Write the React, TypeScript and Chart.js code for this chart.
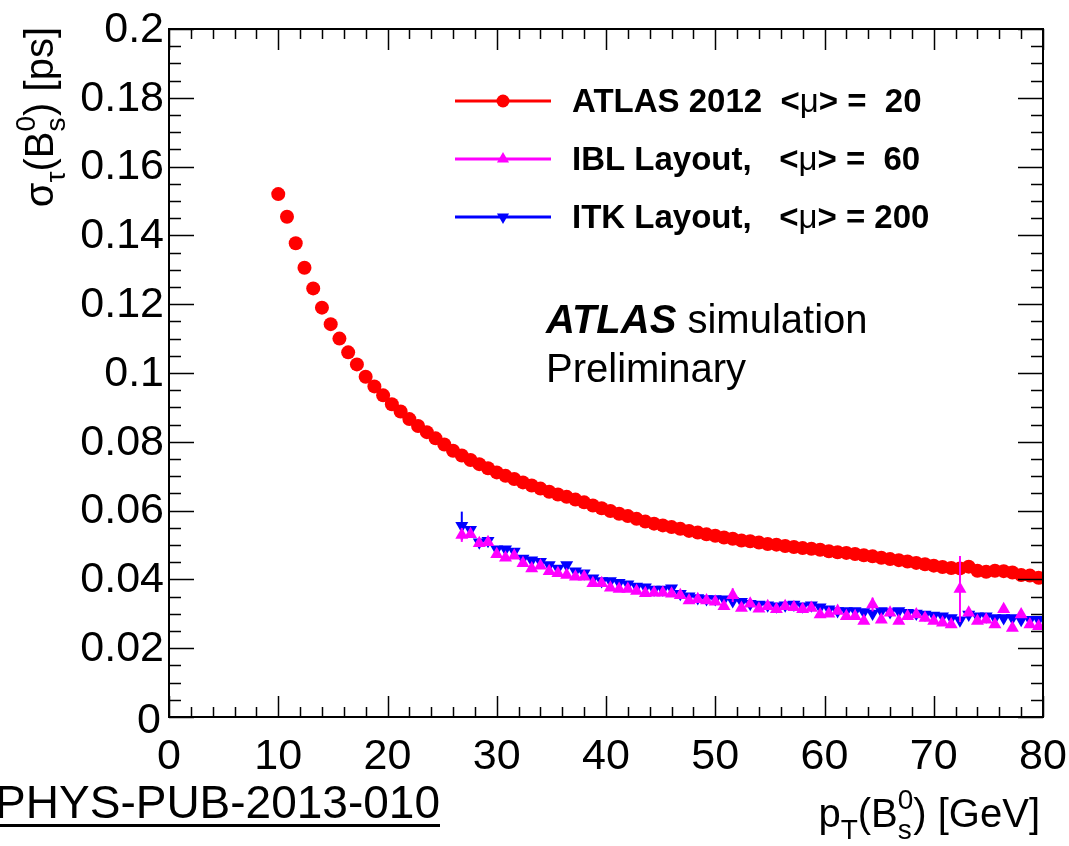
import { useEffect, useRef } from "react";
import { Chart, registerables } from "chart.js";

Chart.register(...registerables);

const FONT = '"Liberation Sans", Arial, Helvetica, sans-serif';

// ---- data ----
const ptAtlas = [
  10.0, 10.8, 11.6, 12.4, 13.2, 14.0, 14.8, 15.6, 16.4, 17.2, 18.0, 18.8, 19.6, 20.4, 21.2, 22.0, 22.8, 23.6, 24.4, 25.2,
  26.0, 26.8, 27.6, 28.4, 29.2, 30.0, 30.8, 31.6, 32.4, 33.2, 34.0, 34.8, 35.6, 36.4, 37.2, 38.0, 38.8, 39.6, 40.4, 41.2,
  42.0, 42.8, 43.6, 44.4, 45.2, 46.0, 46.8, 47.6, 48.4, 49.2, 50.0, 50.8, 51.6, 52.4, 53.2, 54.0, 54.8, 55.6, 56.4, 57.2,
  58.0, 58.8, 59.6, 60.4, 61.2, 62.0, 62.8, 63.6, 64.4, 65.2, 66.0, 66.8, 67.6, 68.4, 69.2, 70.0, 70.8, 71.6, 72.4, 73.2,
  74.0, 74.8, 75.6, 76.4, 77.2, 78.0, 78.8, 79.6,
];
const sigmaAtlas = [
  0.1520, 0.1454, 0.1377, 0.1306, 0.1246, 0.1190, 0.1142, 0.1100, 0.1060, 0.1025, 0.0989, 0.0961, 0.0935, 0.0909, 0.0888, 0.0866, 0.0846, 0.0828, 0.0810, 0.0792,
  0.0774, 0.0760, 0.0747, 0.0735, 0.0723, 0.0711, 0.0701, 0.0692, 0.0682, 0.0673, 0.0664, 0.0655, 0.0647, 0.0640, 0.0632, 0.0624, 0.0615, 0.0607, 0.0599, 0.0591,
  0.0584, 0.0576, 0.0568, 0.0562, 0.0557, 0.0552, 0.0547, 0.0541, 0.0536, 0.0531, 0.0527, 0.0522, 0.0518, 0.0513, 0.0511, 0.0507, 0.0503, 0.0501, 0.0497, 0.0494,
  0.0491, 0.0489, 0.0486, 0.0482, 0.0479, 0.0477, 0.0474, 0.0470, 0.0467, 0.0463, 0.0459, 0.0456, 0.0452, 0.0448, 0.0444, 0.0440, 0.0436, 0.0433, 0.0432, 0.0437,
  0.0425, 0.0422, 0.0425, 0.0424, 0.0420, 0.0413, 0.0411, 0.0405,
];
const ptUpgrade = [
  26.8, 27.6, 28.4, 29.2, 30.0, 30.8, 31.6, 32.4, 33.2, 34.0, 34.8, 35.6, 36.4, 37.2, 38.0, 38.8, 39.6, 40.4, 41.2, 42.0,
  42.8, 43.6, 44.4, 45.2, 46.0, 46.8, 47.6, 48.4, 49.2, 50.0, 50.8, 51.6, 52.4, 53.2, 54.0, 54.8, 55.6, 56.4, 57.2, 58.0,
  58.8, 59.6, 60.4, 61.2, 62.0, 62.8, 63.6, 64.4, 65.2, 66.0, 66.8, 67.6, 68.4, 69.2, 70.0, 70.8, 71.6, 72.4, 73.2, 74.0,
  74.8, 75.6, 76.4, 77.2, 78.0, 78.8, 79.6,
];
const sigmaIbl = [
  0.0529, 0.0531, 0.0505, 0.0508, 0.0473, 0.0463, 0.0469, 0.0447, 0.0432, 0.0440, 0.0424, 0.0418, 0.0413, 0.0408, 0.0408, 0.0389, 0.0389, 0.0376, 0.0372, 0.0372,
  0.0366, 0.0360, 0.0361, 0.0361, 0.0358, 0.0354, 0.0339, 0.0342, 0.0339, 0.0335, 0.0322, 0.0354, 0.0317, 0.0329, 0.0315, 0.0322, 0.0313, 0.0322, 0.0319, 0.0313,
  0.0317, 0.0298, 0.0300, 0.0308, 0.0293, 0.0293, 0.0279, 0.0327, 0.0283, 0.0303, 0.0279, 0.0293, 0.0298, 0.0288, 0.0279, 0.0274, 0.0269, 0.0372, 0.0303, 0.0279,
  0.0283, 0.0269, 0.0313, 0.0259, 0.0298, 0.0269, 0.0264,
];
const errIbl = [
  0.0020, 0.0008, 0.0008, 0.0008, 0.0008, 0.0008, 0.0008, 0.0008, 0.0008, 0.0008, 0.0008, 0.0008, 0.0008, 0.0008, 0.0008, 0.0008, 0.0008, 0.0008, 0.0008, 0.0008,
  0.0008, 0.0008, 0.0008, 0.0008, 0.0008, 0.0008, 0.0008, 0.0008, 0.0008, 0.0008, 0.0008, 0.0020, 0.0008, 0.0008, 0.0008, 0.0008, 0.0008, 0.0008, 0.0008, 0.0008,
  0.0008, 0.0008, 0.0008, 0.0008, 0.0008, 0.0008, 0.0008, 0.0020, 0.0008, 0.0008, 0.0008, 0.0008, 0.0008, 0.0008, 0.0008, 0.0008, 0.0008, 0.0096, 0.0008, 0.0008,
  0.0008, 0.0008, 0.0008, 0.0008, 0.0008, 0.0008, 0.0008,
];
const sigmaItk = [
  0.0556, 0.0544, 0.0508, 0.0512, 0.0488, 0.0488, 0.0481, 0.0461, 0.0456, 0.0451, 0.0442, 0.0432, 0.0442, 0.0424, 0.0418, 0.0403, 0.0395, 0.0395, 0.0390, 0.0386,
  0.0379, 0.0377, 0.0371, 0.0371, 0.0374, 0.0358, 0.0351, 0.0346, 0.0343, 0.0343, 0.0342, 0.0337, 0.0335, 0.0329, 0.0327, 0.0325, 0.0322, 0.0325, 0.0327, 0.0322,
  0.0325, 0.0319, 0.0313, 0.0308, 0.0308, 0.0308, 0.0305, 0.0301, 0.0308, 0.0305, 0.0308, 0.0303, 0.0301, 0.0298, 0.0295, 0.0293, 0.0288, 0.0281, 0.0298, 0.0293,
  0.0293, 0.0288, 0.0288, 0.0288, 0.0283, 0.0283, 0.0283,
];
const errItk = [
  0.0041, 0.0006, 0.0006, 0.0006, 0.0006, 0.0006, 0.0006, 0.0006, 0.0006, 0.0006, 0.0006, 0.0006, 0.0006, 0.0006, 0.0006, 0.0006, 0.0006, 0.0006, 0.0006, 0.0006,
  0.0006, 0.0006, 0.0006, 0.0006, 0.0006, 0.0006, 0.0006, 0.0006, 0.0006, 0.0006, 0.0006, 0.0006, 0.0006, 0.0006, 0.0006, 0.0006, 0.0006, 0.0006, 0.0006, 0.0006,
  0.0006, 0.0006, 0.0006, 0.0006, 0.0006, 0.0006, 0.0006, 0.0006, 0.0006, 0.0006, 0.0006, 0.0006, 0.0006, 0.0006, 0.0006, 0.0006, 0.0006, 0.0006, 0.0006, 0.0006,
  0.0006, 0.0006, 0.0006, 0.0006, 0.0006, 0.0006, 0.0006,
];
const legendLabels = ["ATLAS 2012  <μ> =  20", "IBL Layout,   <μ> =  60", "ITK Layout,   <μ> = 200"];
const seriesColors = ["#ff0000", "#ff00ff", "#0000ff"];
const xTickValues = [0, 10, 20, 30, 40, 50, 60, 70, 80];
const xTickLabels = ["0", "10", "20", "30", "40", "50", "60", "70", "80"];
const yTickValues = [0.02, 0.04, 0.06, 0.08, 0.1, 0.12, 0.14, 0.16, 0.18, 0.2];
const yTickLabels = ["0.02", "0.04", "0.06", "0.08", "0.1", "0.12", "0.14", "0.16", "0.18", "0.2"];
const yZeroLabel = "0";
const refLabel = "PHYS-PUB-2013-010";

type Part = { t: string; k?: "sub" | "sup"; stack?: boolean };

function drawParts(ctx: CanvasRenderingContext2D, parts: Part[], size: number, weight: string, draw: boolean) {
  let x = 0;
  let stackW = 0;
  for (const p of parts) {
    const sz = p.k ? size * 0.7 : size;
    const dy = p.k === "sub" ? size * 0.3 : p.k === "sup" ? -size * 0.45 : 0;
    ctx.font = `${weight} ${sz}px ${FONT}`;
    const w = ctx.measureText(p.t).width;
    if (draw) ctx.fillText(p.t, x, dy);
    if (p.stack) {
      stackW = w;
    } else {
      x += Math.max(w, stackW);
      stackW = 0;
    }
  }
  return x;
}

function drawMarker(ctx: CanvasRenderingContext2D, style: string, x: number, y: number, r: number, color: string) {
  ctx.fillStyle = color;
  ctx.beginPath();
  if (style === "circle") {
    ctx.arc(x, y, r, 0, Math.PI * 2);
  } else {
    const s = style === "down" ? -1 : 1;
    ctx.moveTo(x, y - s * r);
    ctx.lineTo(x + r * 0.866, y + s * r * 0.5);
    ctx.lineTo(x - r * 0.866, y + s * r * 0.5);
    ctx.closePath();
  }
  ctx.fill();
}

const errorBarPlugin = {
  id: "errorBars",
  afterDatasetDraw(chart: any, args: any) {
    const ds = chart.data.datasets[args.index];
    const errs: number[] | undefined = ds.errors;
    if (!errs) return;
    const ctx = chart.ctx as CanvasRenderingContext2D;
    const xs = chart.scales.x;
    const ys = chart.scales.y;
    ctx.save();
    ctx.strokeStyle = ds.backgroundColor;
    ctx.lineWidth = 2;
    ds.data.forEach((p: any, i: number) => {
      const e = errs[i];
      const px = xs.getPixelForValue(p.x);
      ctx.beginPath();
      ctx.moveTo(px, ys.getPixelForValue(p.y - e));
      ctx.lineTo(px, ys.getPixelForValue(p.y + e));
      ctx.stroke();
    });
    ctx.restore();
  },
};

const framePlugin = {
  id: "rootFrame",
  afterDraw(chart: any) {
    const ctx = chart.ctx as CanvasRenderingContext2D;
    const { left, right, top, bottom } = chart.chartArea;
    const xs = chart.scales.x;
    const ys = chart.scales.y;
    ctx.save();
    ctx.strokeStyle = "#000";
    ctx.fillStyle = "#000";
    ctx.lineWidth = 2;
    ctx.strokeRect(left, top, right - left, bottom - top);
    ctx.lineWidth = 1.5;
    // x ticks
    for (let v = 0; v <= 80.001; v += 2) {
      const major = Math.abs(v / 10 - Math.round(v / 10)) < 1e-6;
      const len = major ? 21 : 10;
      const px = Math.round(xs.getPixelForValue(v)) + 0.5;
      ctx.beginPath();
      ctx.moveTo(px, bottom);
      ctx.lineTo(px, bottom - len);
      ctx.moveTo(px, top);
      ctx.lineTo(px, top + len);
      ctx.stroke();
    }
    // y ticks
    for (let i = 0; i <= 40; i++) {
      const v = i * 0.005;
      const major = i % 4 === 0;
      const len = major ? 25 : 12;
      const py = Math.round(ys.getPixelForValue(v)) + 0.5;
      ctx.beginPath();
      ctx.moveTo(left, py);
      ctx.lineTo(left + len, py);
      ctx.moveTo(right, py);
      ctx.lineTo(right - len, py);
      ctx.stroke();
    }
    // tick labels
    ctx.textBaseline = "alphabetic";
    ctx.font = `43px ${FONT}`;
    ctx.textAlign = "center";
    xTickValues.forEach((v, i) => {
      ctx.fillText(xTickLabels[i], xs.getPixelForValue(v), bottom + 52);
    });
    ctx.textAlign = "right";
    ctx.textBaseline = "middle";
    yTickValues.forEach((v, i) => {
      ctx.fillText(yTickLabels[i], left - 5, ys.getPixelForValue(v) + 1);
    });
    ctx.fillText(yZeroLabel, left - 8, ys.getPixelForValue(0) + 4);

    // axis titles
    ctx.textAlign = "left";
    ctx.textBaseline = "alphabetic";
    const yTitle: Part[] = [
      { t: "σ" }, { t: "τ", k: "sub" }, { t: "(B" }, { t: "s", k: "sub", stack: true }, { t: "0", k: "sup" }, { t: ") [ps]" },
    ];
    const ySize = 40;
    const yW = drawParts(ctx, yTitle, ySize, "normal", false);
    ctx.save();
    ctx.translate(53, top - 2 + yW);
    ctx.rotate(-Math.PI / 2);
    drawParts(ctx, yTitle, ySize, "normal", true);
    ctx.restore();

    const xTitle: Part[] = [
      { t: "p" }, { t: "T", k: "sub" }, { t: "(B" }, { t: "s", k: "sub", stack: true }, { t: "0", k: "sup" }, { t: ") [GeV]" },
    ];
    const xSize = 40;
    const xW = drawParts(ctx, xTitle, xSize, "normal", false);
    ctx.save();
    ctx.translate(right - 3 - xW, 827);
    drawParts(ctx, xTitle, xSize, "normal", true);
    ctx.restore();

    // legend
    const rows = [101, 159, 217];
    const styles = ["circle", "up", "down"];
    legendLabels.forEach((lab, i) => {
      const y = rows[i];
      ctx.strokeStyle = seriesColors[i];
      ctx.lineWidth = 3;
      ctx.beginPath();
      ctx.moveTo(455, y);
      ctx.lineTo(551, y);
      ctx.stroke();
      drawMarker(ctx, styles[i], 503, y, styles[i] === "circle" ? 6.5 : 7, seriesColors[i]);
      ctx.fillStyle = "#000";
      const [a, b] = lab.split("μ");
      let x = 572;
      ctx.font = `bold 33px ${FONT}`;
      ctx.fillText(a, x, y + 11);
      x += ctx.measureText(a).width;
      ctx.font = `33px ${FONT}`;
      ctx.fillText("μ", x, y + 11);
      x += ctx.measureText("μ").width;
      ctx.font = `bold 33px ${FONT}`;
      ctx.fillText(b, x, y + 11);
    });

    // ATLAS label
    ctx.fillStyle = "#000";
    ctx.font = `italic bold 40px ${FONT}`;
    ctx.fillText("ATLAS", 546, 333);
    const aw = ctx.measureText("ATLAS").width;
    ctx.font = `40px ${FONT}`;
    ctx.fillText(" simulation", 546 + aw, 333);
    ctx.fillText("Preliminary", 546, 382);

    // reference label
    ctx.font = `46px ${FONT}`;
    ctx.textAlign = "right";
    ctx.fillText(refLabel, 440, 818);
    ctx.fillRect(0, 824, 440, 3);
    ctx.restore();
  },
};

export default function App() {
  const ref = useRef<HTMLCanvasElement>(null);
  useEffect(() => {
    document.body.style.margin = "0";
    const canvas = ref.current!;
    const chart = new Chart(canvas, {
      type: "scatter",
      data: {
        datasets: [
          {
            label: legendLabels[0],
            data: ptAtlas.map((x, i) => ({ x, y: sigmaAtlas[i] })),
            pointStyle: "circle",
            pointRadius: 7,
            backgroundColor: seriesColors[0],
            borderColor: seriesColors[0],
            borderWidth: 0,
            order: 2,
          } as any,
          {
            label: legendLabels[1],
            data: ptUpgrade.map((x, i) => ({ x, y: sigmaIbl[i] })),
            errors: errIbl,
            pointStyle: "triangle",
            pointRadius: 7.5,
            backgroundColor: seriesColors[1],
            borderColor: seriesColors[1],
            borderWidth: 0,
            order: 0,
          } as any,
          {
            label: legendLabels[2],
            data: ptUpgrade.map((x, i) => ({ x, y: sigmaItk[i] })),
            errors: errItk,
            pointStyle: "triangle",
            rotation: 180,
            pointRadius: 7.5,
            backgroundColor: seriesColors[2],
            borderColor: seriesColors[2],
            borderWidth: 0,
            order: 1,
          } as any,
        ],
      },
      options: {
        responsive: false,
        animation: false,
        devicePixelRatio: 1,
        events: [],
        layout: { padding: { top: 29, right: 26, left: 0, bottom: 0 } },
        scales: {
          x: {
            type: "linear",
            min: 0,
            max: 80,
            grid: { display: false },
            border: { display: false },
            ticks: { display: false },
            afterFit: (s: any) => {
              s.height = 129;
            },
          },
          y: {
            type: "linear",
            min: 0,
            max: 0.2,
            grid: { display: false },
            border: { display: false },
            ticks: { display: false },
            afterFit: (s: any) => {
              s.width = 169;
            },
          },
        },
        plugins: { legend: { display: false }, tooltip: { enabled: false } },
      },
      plugins: [errorBarPlugin, framePlugin],
    });
    return () => chart.destroy();
  }, []);
  return (
    <div style={{ position: "absolute", left: 0, top: 0, width: 1069, height: 846, background: "#fff" }}>
      <canvas ref={ref} width={1069} height={846} style={{ display: "block" }} />
    </div>
  );
}
